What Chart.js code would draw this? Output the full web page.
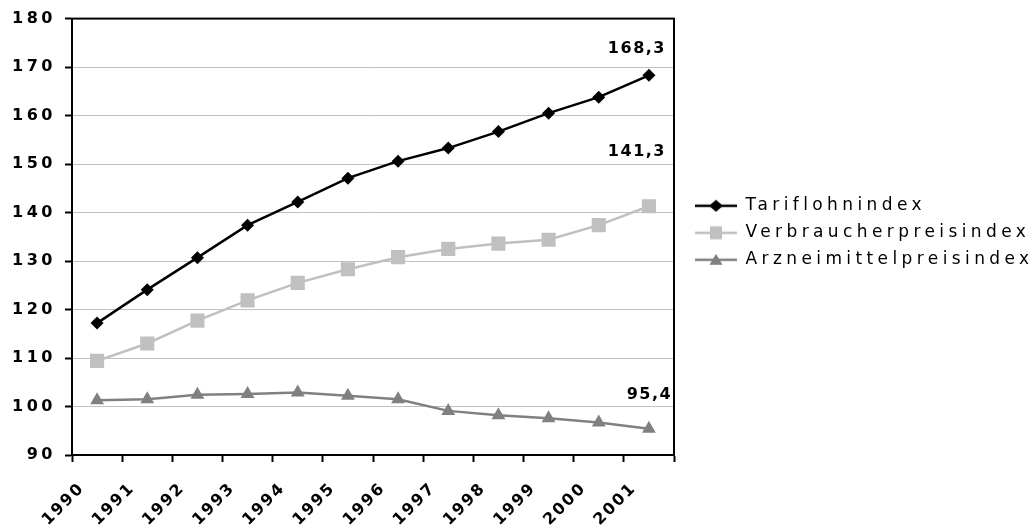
<!DOCTYPE html>
<html>
<head>
<meta charset="utf-8">
<script src="https://cdn.jsdelivr.net/npm/chart.js@4/dist/chart.umd.min.js"></script>
<style>
  html, body { margin: 0; padding: 0; background: #fff; }
  #c { display: block; }
</style>
</head>
<body>
<canvas id="c" width="1034" height="529"></canvas>
<script>
// Index series 1990–2001
const years = ['1990', '1991', '1992', '1993', '1994', '1995', '1996', '1997', '1998', '1999', '2000', '2001'];
const tariflohnindex = [117.2, 124.1, 130.7, 137.4, 142.2, 147.1, 150.6, 153.3, 156.7, 160.5, 163.8, 168.3];
const verbraucherpreisindex = [109.4, 113.0, 117.7, 121.9, 125.5, 128.3, 130.8, 132.5, 133.6, 134.4, 137.4, 141.3];
const arzneimittelpreisindex = [101.3, 101.5, 102.4, 102.6, 102.9, 102.2, 101.5, 99.1, 98.2, 97.6, 96.7, 95.4];
const seriesNames = ['Tariflohnindex', 'Verbraucherpreisindex', 'Arzneimittelpreisindex'];
const yTickValues = [90, 100, 110, 120, 130, 140, 150, 160, 170, 180];

const FONT = "'DejaVu Sans', Verdana, sans-serif";

// Legend sample: a short line with the series marker in the middle
function legendIcon(color, shape) {
  const w = 53, h = 18, cx = 32, cy = 9;
  const cv = document.createElement('canvas');
  cv.width = w; cv.height = h;
  const g = cv.getContext('2d');
  g.strokeStyle = color; g.lineWidth = 2.5;
  g.beginPath(); g.moveTo(11, cy); g.lineTo(w, cy); g.stroke();
  g.fillStyle = color;
  g.beginPath();
  if (shape === 'rectRot') {
    g.moveTo(cx, cy - 6); g.lineTo(cx + 7, cy); g.lineTo(cx, cy + 6); g.lineTo(cx - 7, cy);
  } else if (shape === 'rect') {
    g.rect(cx - 6, cy - 6.5, 12, 13);
  } else {
    g.moveTo(cx, cy - 6); g.lineTo(cx + 6.5, cy + 5); g.lineTo(cx - 6.5, cy + 5);
  }
  g.closePath(); g.fill();
  return cv;
}

// Runs a box's draw function with a given letter spacing
function withSpacing(ctx, fn, px) {
  return function (...args) {
    const prev = ctx.letterSpacing;
    ctx.letterSpacing = px;
    const r = fn.apply(this, args);
    ctx.letterSpacing = prev;
    return r;
  };
}

// Letter spacing per text group, fixed legend width and placement
const textLayout = {
  id: 'textLayout',
  beforeLayout(chart, args, opts) {
    const lg = chart.legend;
    if (lg && !lg._fixedWidth) {
      const fit = lg.fit.bind(lg);
      lg.fit = function () { fit(); this.width = opts.legendWidth; };
      lg.draw = withSpacing(chart.ctx, lg.draw, opts.legendSpacing);
      lg._fixedWidth = true;
    }
  },
  afterLayout(chart, args, opts) {
    const lg = chart.legend;
    if (lg) { lg.top += opts.legendShiftY; lg.bottom += opts.legendShiftY; }
    const { x, y } = chart.scales;
    if (!x._spaced) { x.drawLabels = withSpacing(chart.ctx, x.drawLabels, opts.xSpacing); x._spaced = true; }
    if (!y._spaced) { y.drawLabels = withSpacing(chart.ctx, y.drawLabels, opts.ySpacing); y._spaced = true; }
  }
};

// Frame around the plot area
const plotFrame = {
  id: 'plotFrame',
  beforeDatasetsDraw(chart) {
    const { ctx, chartArea: a } = chart;
    ctx.save();
    ctx.strokeStyle = '#000';
    ctx.lineWidth = 2;
    ctx.strokeRect(a.left, a.top, a.right - a.left, a.bottom - a.top);
    ctx.restore();
  }
};

// Value of the final year written above each series' last point
const valueLabels = {
  id: 'valueLabels',
  afterDatasetsDraw(chart, args, opts) {
    const ctx = chart.ctx;
    ctx.save();
    ctx.font = opts.font;
    ctx.letterSpacing = opts.letterSpacing;
    ctx.fillStyle = '#000';
    ctx.textAlign = 'center';
    ctx.textBaseline = 'middle';
    chart.data.datasets.forEach((ds, i) => {
      const meta = chart.getDatasetMeta(i);
      const last = ds.data.length - 1;
      const pt = meta.data[last];
      const off = opts.offsets[i];
      const txt = ds.data[last].toLocaleString('de-DE', { minimumFractionDigits: 1, maximumFractionDigits: 1 });
      ctx.fillText(txt, pt.x + off.dx, pt.y + off.dy);
    });
    ctx.restore();
  }
};

const styles = [
  { color: '#000000', shape: 'rectRot', radius: 6.5 },
  { color: '#c0c0c0', shape: 'rect', radius: 10 },
  { color: '#808080', shape: 'triangle', radius: 8 }
];
const seriesData = [tariflohnindex, verbraucherpreisindex, arzneimittelpreisindex];

new Chart(document.getElementById('c'), {
  type: 'line',
  data: {
    labels: years,
    datasets: seriesData.map((d, i) => ({
      label: seriesNames[i],
      data: d,
      borderColor: styles[i].color,
      backgroundColor: styles[i].color,
      borderWidth: 2.5,
      tension: 0,
      pointStyle: styles[i].shape,
      pointRadius: styles[i].radius,
      pointHoverRadius: styles[i].radius,
      pointBackgroundColor: styles[i].color,
      pointBorderColor: styles[i].color,
      pointBorderWidth: 0,
      fill: false
    }))
  },
  options: {
    responsive: false,
    devicePixelRatio: 1,
    animation: false,
    layout: { padding: { top: 18, left: 0, right: 0, bottom: 0 } },
    scales: {
      x: {
        offset: true,
        grid: { offset: true, drawOnChartArea: false, drawTicks: true, tickLength: 7, tickColor: '#000', tickWidth: 2 },
        border: { color: '#000', width: 2 },
        ticks: {
          autoSkip: false,
          minRotation: 45,
          maxRotation: 45,
          padding: 17,
          labelOffset: -15,
          color: '#000',
          font: { family: FONT, size: 16, weight: 'bold' }
        },
        afterFit(s) { s.height = 74; }
      },
      y: {
        min: 90,
        max: 180,
        afterBuildTicks(s) { s.ticks = yTickValues.map(v => ({ value: v })); },
        grid: { color: '#c0c0c0', lineWidth: 1, drawTicks: true, tickLength: 7, tickColor: '#000', tickWidth: 2 },
        border: { color: '#000', width: 2 },
        ticks: {
          padding: 9,
          color: '#000',
          font: { family: FONT, size: 16, weight: 'bold' }
        },
        afterFit(s) { s.width = 72; }
      }
    },
    plugins: {
      tooltip: { enabled: false },
      legend: {
        position: 'right',
        fullSize: false,
        labels: {
          usePointStyle: true,
          pointStyleWidth: 53,
          padding: 10,
          color: '#000',
          font: { family: FONT, size: 17 },
          generateLabels(chart) {
            return chart.data.datasets.map((ds, i) => ({
              text: ds.label,
              pointStyle: legendIcon(styles[i].color, styles[i].shape),
              fillStyle: ds.borderColor,
              strokeStyle: ds.borderColor,
              lineWidth: 0,
              hidden: false,
              datasetIndex: i,
              fontColor: '#000'
            }));
          }
        }
      },
      textLayout: { legendWidth: 360, legendShiftY: -4, legendSpacing: '4.4px', xSpacing: '2px', ySpacing: '3.5px' },
      valueLabels: {
        font: "bold 16px 'DejaVu Sans', Verdana, sans-serif",
        letterSpacing: '1.5px',
        offsets: [{ dx: -12, dy: -26.5 }, { dx: -12, dy: -54 }, { dx: 0.5, dy: -34 }]
      }
    }
  },
  plugins: [textLayout, plotFrame, valueLabels]
});
</script>
</body>
</html>
